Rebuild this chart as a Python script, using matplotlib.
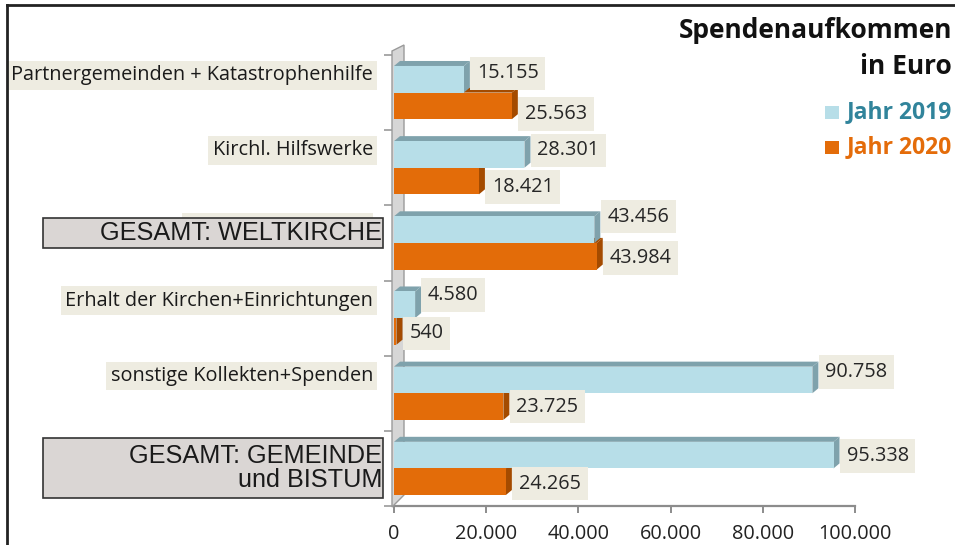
import matplotlib
matplotlib.use("Agg")
import matplotlib.pyplot as plt
from matplotlib.patches import Polygon, Rectangle
from matplotlib.transforms import IdentityTransform, blended_transform_factory

categories = [
    "Partnergemeinden + Katastrophenhilfe",
    "Kirchl. Hilfswerke",
    "GESAMT: WELTKIRCHE",
    "Erhalt der Kirchen+Einrichtungen",
    "sonstige Kollekten+Spenden",
    "GESAMT: GEMEINDE\nund BISTUM",
]
values_2019 = [15155, 28301, 43456, 4580, 90758, 95338]
values_2020 = [25563, 18421, 43984, 540, 23725, 24265]
labels_2019 = ["15.155", "28.301", "43.456", "4.580", "90.758", "95.338"]
labels_2020 = ["25.563", "18.421", "43.984", "540", "23.725", "24.265"]
xticks = [0, 20000, 40000, 60000, 80000, 100000]
xtick_labels = ["0", "20.000", "40.000", "60.000", "80.000", "100.000"]
series_names = ["Jahr 2019", "Jahr 2020"]
highlight = [False, False, True, False, False, True]

# label vertical offsets in pixels (positive = down)
off_2019 = [-6, -4, -13, -10, -8, 1]
off_2020 = [8, 6, 2, 2, 0, 2]

FONT = "Open Sans"
NUM_FS = 14.3
CAT_FS = 14.3

W, H = 955, 545
fig = plt.figure(figsize=(W / 100, H / 100), dpi=100)
fig.patch.set_facecolor("white")

def fx(px):
    return px / W

def fy(py):
    return 1 - py / H

ax_left, ax_right, ax_top, ax_bot = 394, 855, 55, 506
ax = fig.add_axes([fx(ax_left), fy(ax_bot), fx(ax_right - ax_left), (ax_bot - ax_top) / H])
ax.set_xlim(0, 100000)
n = len(categories)
ax.set_ylim(n - 0.5, -0.5)
ax.set_facecolor("none")
for s in ["top", "right", "left"]:
    ax.spines[s].set_visible(False)
ax.spines["bottom"].set_color("#8c8c8c")
ax.spines["bottom"].set_linewidth(1.6)
ax.set_xticks(xticks)
ax.set_xticklabels(xtick_labels, fontsize=NUM_FS, color="#222222", family=FONT)
ax.tick_params(axis="x", direction="out", length=5, width=1.4, color="#8c8c8c", pad=8)
bounds = [i - 0.5 for i in range(n + 1)]
ax.set_yticks(bounds)
ax.set_yticklabels([""] * len(bounds))
ax.tick_params(axis="y", direction="out", length=7, width=1.2, color="#9a9a9a", pad=2)

blue, blue_dark = "#B7DEE8", "#7FA2AC"
orange, orange_dark = "#E36C09", "#A44B00"
h = 0.354
off = 0.177
dx, dy = 6, 5

fig.canvas.draw()
T = ax.transData

# wall
x0, Yb = T.transform((0, n - 0.5))
_, Yt = T.transform((0, -0.5))
wall = Polygon([(x0 - 2, Yb - 1), (x0 + 10, Yb + 11), (x0 + 10, Yt + 10), (x0 - 2, Yt + 4)],
               closed=True, transform=IdentityTransform(), facecolor="#D6D6D6",
               edgecolor="#9a9a9a", linewidth=1.0, zorder=1)
fig.add_artist(wall)

def bar3d(v, yc, face, dark, z):
    xl, yA = T.transform((0, yc - h / 2))
    xr, yB = T.transform((v, yc + h / 2))
    top, bot = max(yA, yB), min(yA, yB)
    front = Polygon([(xl, bot), (xr, bot), (xr, top), (xl, top)], closed=True,
                    transform=IdentityTransform(), facecolor=face, edgecolor="none", zorder=z)
    topf = Polygon([(xl, top), (xr, top), (xr + dx, top + dy), (xl + dx, top + dy)], closed=True,
                   transform=IdentityTransform(), facecolor=dark, edgecolor="none", zorder=z)
    side = Polygon([(xr, bot), (xr, top), (xr + dx, top + dy), (xr + dx, bot + dy)], closed=True,
                   transform=IdentityTransform(), facecolor=dark, edgecolor="none", zorder=z)
    for p in (topf, side, front):
        fig.add_artist(p)
    return xr, (top + bot) / 2

label_box = dict(boxstyle="square,pad=0.34", facecolor="#EEECE1", edgecolor="none")

for i in range(n):
    # 2020 first (lower), then 2019 occludes its top face
    xr, ym = bar3d(values_2020[i], i + off, orange, orange_dark, 3)
    fig.text(xr + 13, ym - off_2020[i], labels_2020[i], transform=IdentityTransform(),
             ha="left", va="center", fontsize=NUM_FS, family=FONT, color="#262626",
             bbox=label_box, zorder=10)
    xr, ym = bar3d(values_2019[i], i - off, blue, blue_dark, 4)
    fig.text(xr + 13, ym - off_2019[i], labels_2019[i], transform=IdentityTransform(),
             ha="left", va="center", fontsize=NUM_FS, family=FONT, color="#262626",
             bbox=label_box, zorder=10)

# category labels
bt = blended_transform_factory(fig.transFigure, ax.transData)
cat_box = dict(boxstyle="square,pad=0.22", facecolor="#EEECE1", edgecolor="none")
for i, cat in enumerate(categories):
    if highlight[i]:
        hh = 0.39 if "\n" not in cat else 0.80
        yc = i - 0.13 if "\n" not in cat else i
        if "\n" not in cat:
            ax.add_patch(Rectangle((fx(182), i - 0.40), fx(191), 0.2, transform=bt,
                                   facecolor="#EEECE1", edgecolor="none",
                                   clip_on=False, zorder=5))
        rect = Rectangle((fx(43), yc - hh / 2), fx(340), hh, transform=bt,
                         facecolor="#DAD6D4", edgecolor="#333333", linewidth=1.2,
                         clip_on=False, zorder=6)
        ax.add_patch(rect)
        ax.text(fx(382), yc, cat, transform=bt, ha="right", va="center",
                fontsize=18.2, family="Liberation Sans", color="#1a1a1a",
                linespacing=1.0, clip_on=False, zorder=7)
    else:
        ax.text(fx(373), i - 0.23, cat, transform=bt, ha="right", va="center",
                fontsize=CAT_FS, family=FONT, color="#1a1a1a",
                bbox=cat_box, clip_on=False, zorder=5)

# title
fig.text(fx(952), fy(31), "Spendenaufkommen", ha="right", va="center", fontsize=19,
         family=FONT, weight="bold", color="#111111")
fig.text(fx(952), fy(66), "in Euro", ha="right", va="center", fontsize=19,
         family=FONT, weight="bold", color="#111111")

# legend
leg_colors = [blue, orange]
leg_text_colors = ["#31849B", "#E46C0A"]
for k, (name, c, tc) in enumerate(zip(series_names, leg_colors, leg_text_colors)):
    yy = 112 + 35 * k
    fig.patches.append(Rectangle((fx(825), fy(yy + 7)), fx(14), 13 / H, transform=fig.transFigure,
                                 facecolor=c, edgecolor="none"))
    fig.text(fx(952), fy(yy), name, ha="right", va="center", fontsize=16.5, family=FONT,
             weight="bold", color=tc)

# frame
fig.add_artist(plt.Line2D([fx(7), 1.0], [fy(5), fy(5)], transform=fig.transFigure,
                          color="#222222", linewidth=2))
fig.add_artist(plt.Line2D([fx(7), fx(7)], [fy(5), 0.0], transform=fig.transFigure,
                          color="#222222", linewidth=2))

fig.savefig("out.png", dpi=100)
